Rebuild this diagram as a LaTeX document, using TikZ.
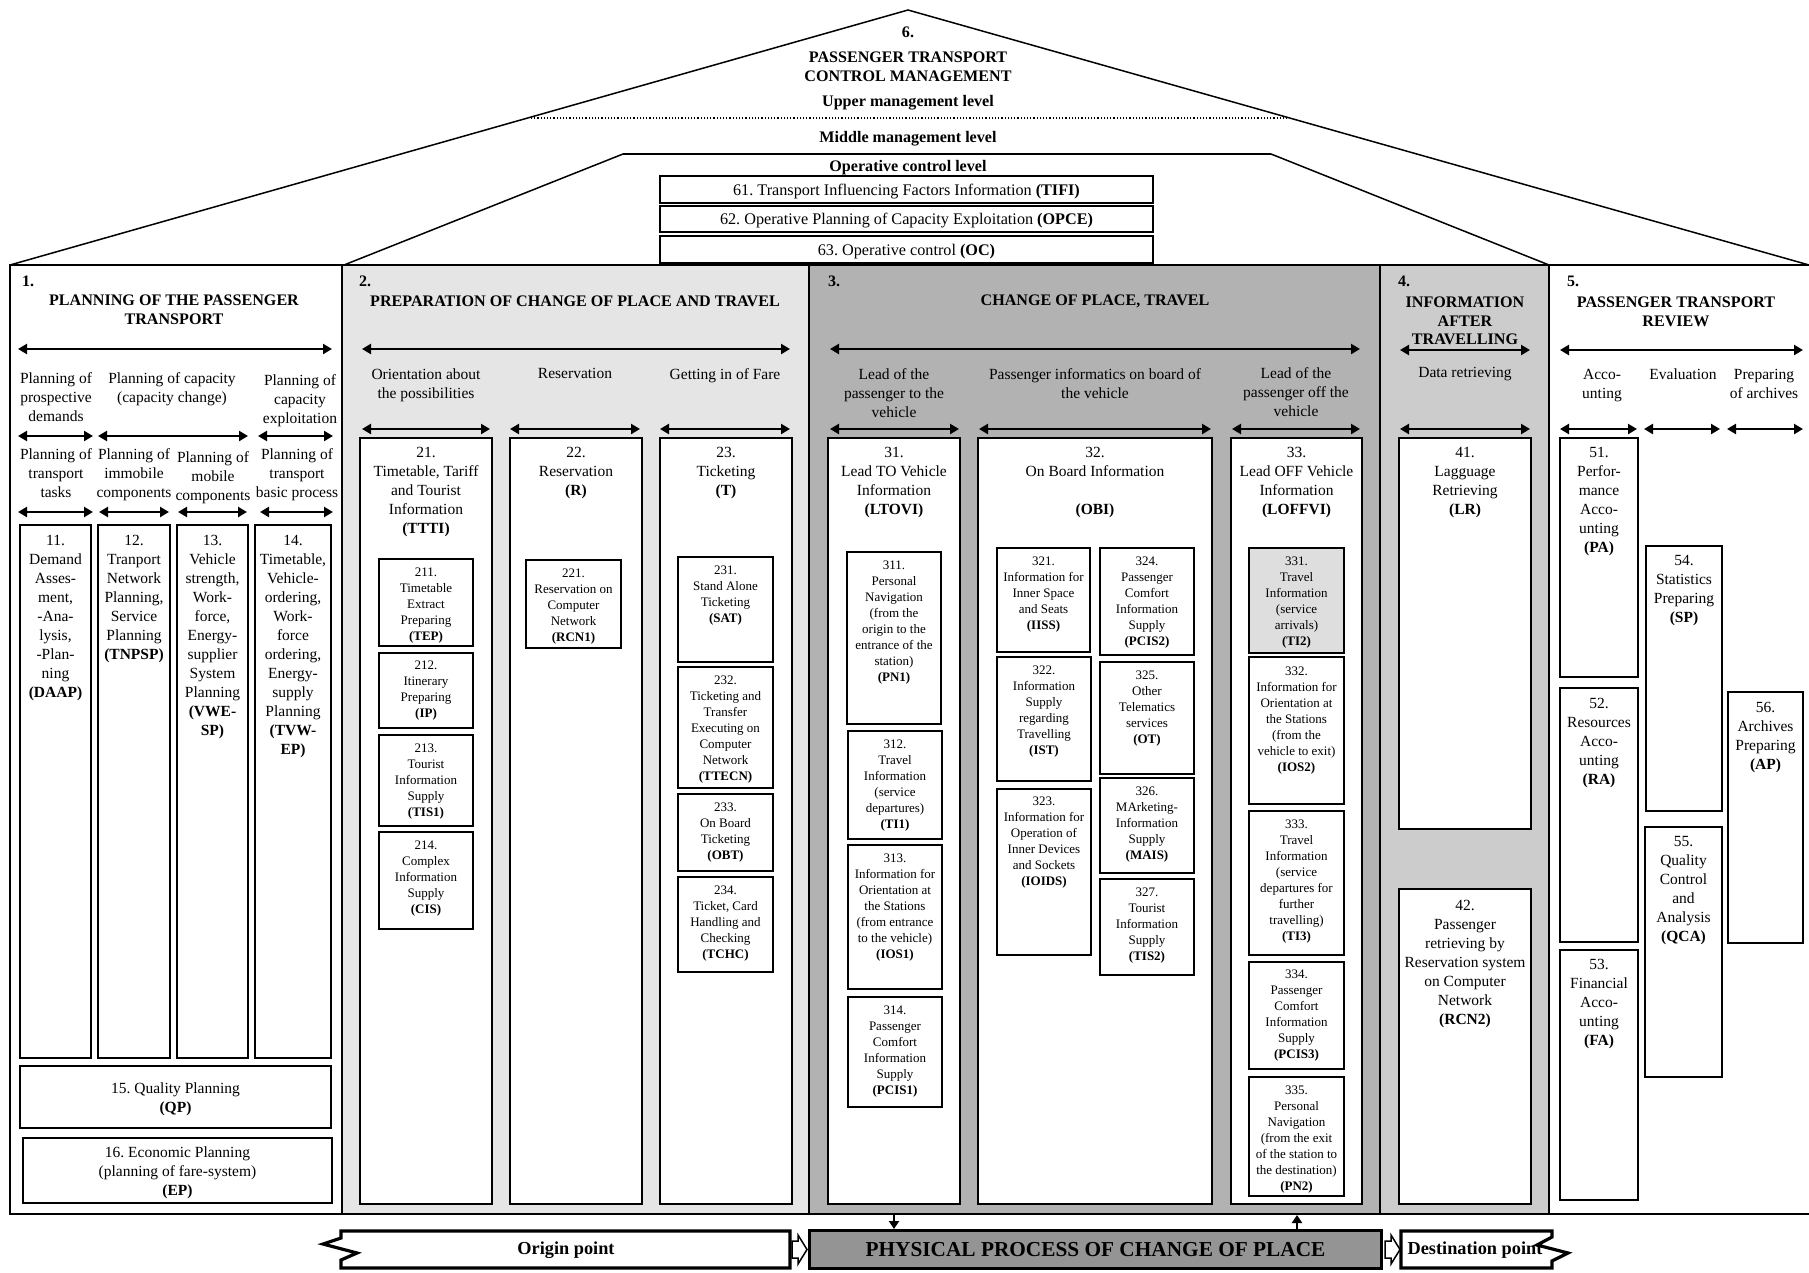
\documentclass[tikz,border=0pt]{standalone}
\usepackage{fontspec}
\setmainfont{Liberation Serif}
\usetikzlibrary{arrows.meta}
\definecolor{sTwo}{gray}{0.9}
\definecolor{sThree}{gray}{0.7}
\definecolor{sFour}{gray}{0.8}
\definecolor{hiBox}{gray}{0.87}
\definecolor{physC}{gray}{0.58}
\newcommand\tx[5][mtx]{\node[#1] (#2) at (#3,#4) {\strut #5};}
\newcommand\bx[6][]{\node[bxs,#1,minimum width={(#5-#3)*1pt},minimum height={(#6-#4)*1pt}] (#2) at ({(#3+#5)/2},{(#4+#6)/2}) {};}
\newcommand\da[4]{\coordinate (#1a) at (#2,#4); \coordinate (#1b) at (#3,#4); \draw[dar] (#1a) -- (#1b);}
\tikzset{
  mtx/.style={font=\fontsize{15.5}{19}\selectfont, align=center, inner sep=0pt, anchor=north, yshift=8.3pt},
  stx/.style={font=\fontsize{13}{16}\selectfont, align=center, inner sep=0pt, anchor=north, yshift=6.7pt},
  htx/.style={font=\fontsize{16.1}{18.5}\selectfont\bfseries, align=center, inner sep=0pt, anchor=north, yshift=7.6pt},
  nbx/.style={font=\fontsize{16}{19}\selectfont\bfseries, anchor=west, inner sep=0pt},
  ctx/.style={font=\fontsize{16.2}{19}\selectfont, inner sep=0pt, anchor=base},
  btx/.style={font=\fontsize{18.3}{22}\selectfont\bfseries, inner sep=0pt, anchor=center},
  bxs/.style={draw, line width=1.8pt, fill=white, inner sep=0pt, outer sep=0pt, anchor=center},
  sbx/.style={line width=2.2pt},
  secb/.style={line width=2pt},
  rbx/.style={line width=1.8pt},
  dar/.style={line width=2.4pt, {Triangle[length=9pt,width=10pt]}-{Triangle[length=9pt,width=10pt]}},
  sar/.style={line width=2.6pt, -{Triangle[length=8pt,width=10pt]}},
  obox/.style={draw, fill=white, line width=3.2pt, line join=miter},
  blk/.style={draw, fill=white, line width=1.5pt, line join=miter}
}
\begin{document}
\frenchspacing
\begin{tikzpicture}[x=1pt,y=-1pt]
\useasboundingbox (0,0) rectangle (1809,1272);
% ---------- roof ----------
\coordinate (apex) at (908,10);
\coordinate (rl) at (10,265);
\coordinate (rr) at (1809,265);
\draw[line width=1.5pt] (rl) -- (apex) -- (rr);
\coordinate (dl) at (531,118);
\coordinate (dr) at (1289,118);
\draw[dotted, line width=1.2pt] (dl) -- (dr);
\coordinate (tl) at (344,265);
\coordinate (ttl) at (623,154);
\coordinate (ttr) at (1271,154);
\coordinate (tr) at (1549,265);
\draw[line width=1.5pt] (tl) -- (ttl);
\draw[line width=2.6pt] (ttl) -- (ttr);
\draw[line width=1.5pt] (ttr) -- (tr);
\tx[htx]{r6}{908}{32}{6.}
\tx[htx]{rtitle}{908}{57}{PASSENGER TRANSPORT\\CONTROL MANAGEMENT}
\tx[htx]{rup}{908}{101}{Upper management level}
\tx[htx]{rmid}{908}{137}{Middle management level}
\tx[htx]{rop}{908}{166}{Operative control level}
\bx[rbx]{b61}{660}{176}{1153}{203}
\node[ctx] (t61) at ([yshift=-5.5pt]b61.center) {61. Transport Influencing Factors Information \textbf{(TIFI)}};
\bx[rbx]{b62}{660}{206}{1153}{232}
\node[ctx] (t62) at ([yshift=-5.5pt]b62.center) {62. Operative Planning of Capacity Exploitation \textbf{(OPCE)}};
\bx[rbx]{b63}{660}{236}{1153}{263}
\node[ctx] (t63) at ([yshift=-5.5pt]b63.center) {63. Operative control \textbf{(OC)}};
% ---------- sections ----------
\bx[secb]{s1}{10}{265}{342}{1214}
\bx[secb,fill=sTwo]{s2}{342}{265}{809}{1214}
\bx[secb,fill=sThree]{s3}{809}{265}{1380}{1214}
\bx[secb,fill=sFour]{s4}{1380}{265}{1549}{1214}
\node[inner sep=0pt, outer sep=0pt, minimum width=260pt, minimum height=949pt] (s5) at (1679,739.5) {};
\draw[line width=2pt] (s5.north west) -- (s5.north east);
\draw[line width=2pt] (s5.south west) -- (s5.south east);
\node[nbx] (n1) at (22,281) {1.};
\node[nbx] (n2) at (359,281) {2.};
\node[nbx] (n3) at (828,281) {3.};
\node[nbx] (n4) at (1398,281) {4.};
\node[nbx] (n5) at (1567,281) {5.};
\tx[htx]{h1}{174}{300}{PLANNING OF THE PASSENGER\\TRANSPORT}
\tx[htx]{h2}{575}{301}{PREPARATION OF CHANGE OF PLACE AND TRAVEL}
\tx[htx]{h3}{1095}{300}{CHANGE OF PLACE, TRAVEL}
\tx[htx]{h4}{1465}{302}{INFORMATION\\AFTER\\TRAVELLING}
\tx[htx]{h5}{1676}{302}{PASSENGER TRANSPORT\\REVIEW}
% ---------- long arrows ----------
\da{aA1}{18}{332}{349}
\da{aA2}{362}{790}{349}
\da{aA3}{830}{1360}{349}
\da{aA4}{1400}{1530}{350}
\da{aA5}{1560}{1803}{350}
% ---------- section 1 ----------
\tx{l11}{56}{378}{Planning of\\prospective\\demands}
\tx{l12}{172}{378}{Planning of capacity\\(capacity change)}
\tx{l13}{300}{380}{Planning of\\capacity\\exploitation}
\da{aB1}{18}{93}{436}
\da{aB2}{98}{248}{436}
\da{aB3}{258}{333}{436}
\tx{l14}{56}{454}{Planning of\\transport\\tasks}
\tx{l15}{134}{454}{Planning of\\immobile\\components}
\tx{l16}{213}{457}{Planning of\\mobile\\components}
\tx{l17}{297}{454}{Planning of\\transport\\basic process}
\da{aC1}{18}{93}{512}
\da{aC2}{99}{169}{512}
\da{aC3}{178}{247}{512}
\da{aC4}{260}{333}{512}
\bx{b11}{20}{525}{91}{1058}
\tx{t11}{55.5}{540}{11.\\Demand\\Asses-\\ment,\\-Ana-\\lysis,\\-Plan-\\ning\\\textbf{(DAAP)}}
\bx{b12}{98}{525}{170}{1058}
\tx{t12}{134}{540}{12.\\Tranport\\Network\\Planning,\\Service\\Planning\\\textbf{(TNPSP)}}
\bx{b13}{177}{525}{248}{1058}
\tx{t13}{212.5}{540}{13.\\Vehicle\\strength,\\Work-\\force,\\Energy-\\supplier\\System\\Planning\\\textbf{(VWE-}\\\textbf{SP)}}
\bx{b14}{255}{525}{331}{1058}
\tx{t14}{293}{540}{14.\\Timetable,\\Vehicle-\\ordering,\\Work-\\force\\ordering,\\Energy-\\supply\\Planning\\\textbf{(TVW-}\\\textbf{EP)}}
\bx{b15}{20}{1066}{331}{1128}
\tx{t15}{175.5}{1088}{15. Quality Planning\\\textbf{(QP)}}
\bx{b16}{23}{1138}{332}{1203}
\tx{t16}{177.5}{1152}{16. Economic Planning\\(planning of fare-system)\\\textbf{(EP)}}
% ---------- section 2 ----------
\tx{l21}{426}{374}{Orientation about\\the possibilities}
\tx{l22}{575}{373}{Reservation}
\tx{l23}{725}{374}{Getting in of Fare}
\da{aD1}{362}{490}{429}
\da{aD2}{510}{640}{429}
\da{aD3}{660}{790}{429}
\bx{b21}{360}{438}{492}{1204}
\tx{t21}{426}{452}{21.\\Timetable, Tariff\\and Tourist\\Information\\\textbf{(TTTI)}}
\bx{b22}{510}{438}{642}{1204}
\tx{t22}{576}{452}{22.\\Reservation\\\textbf{(R)}}
\bx{b23}{660}{438}{792}{1204}
\tx{t23}{726}{452}{23.\\Ticketing\\\textbf{(T)}}
\bx[sbx]{b211}{379}{559}{473}{646}
\tx[stx]{t211}{426}{571.7}{211.\\Timetable\\Extract\\Preparing\\\textbf{(TEP)}}
\bx[sbx]{b212}{379}{653}{473}{728}
\tx[stx]{t212}{426}{665}{212.\\Itinerary\\Preparing\\\textbf{(IP)}}
\bx[sbx]{b213}{379}{735}{473}{826}
\tx[stx]{t213}{426}{747.5}{213.\\Tourist\\Information\\Supply\\\textbf{(TIS1)}}
\bx[sbx]{b214}{379}{832}{473}{929}
\tx[stx]{t214}{426}{844.5}{214.\\Complex\\Information\\Supply\\\textbf{(CIS)}}
\bx[sbx]{b221}{526}{560}{621}{648}
\tx[stx]{t221}{573.5}{572.7}{221.\\Reservation on\\Computer\\Network\\\textbf{(RCN1)}}
\bx[sbx]{b231}{678}{557}{773}{662}
\tx[stx]{t231}{725.5}{570}{231.\\Stand Alone\\Ticketing\\\textbf{(SAT)}}
\bx[sbx]{b232}{678}{667}{773}{788}
\tx[stx]{t232}{725.5}{679.3}{232.\\Ticketing and\\Transfer\\Executing on\\Computer\\Network\\\textbf{(TTECN)}}
\bx[sbx]{b233}{678}{794}{773}{871}
\tx[stx]{t233}{725.5}{806.8}{233.\\On Board\\Ticketing\\\textbf{(OBT)}}
\bx[sbx]{b234}{678}{877}{773}{972}
\tx[stx]{t234}{725.5}{889.3}{234.\\Ticket, Card\\Handling and\\Checking\\\textbf{(TCHC)}}
% ---------- section 3 ----------
\tx{l31}{894}{374}{Lead of the\\passenger to the\\vehicle}
\tx{l32}{1095}{374}{Passenger informatics on board of\\the vehicle}
\tx{l33}{1296}{373}{Lead of the\\passenger off the\\vehicle}
\da{aE1}{830}{959}{429}
\da{aE2}{979}{1211}{429}
\da{aE3}{1232}{1360}{429}
\bx{b31}{828}{438}{960}{1204}
\tx{t31}{894}{452}{31.\\Lead TO Vehicle\\Information\\\textbf{(LTOVI)}}
\bx{b32}{978}{438}{1212}{1204}
\tx{t32}{1095}{452}{32.\\On Board Information\\[19pt]\textbf{(OBI)}}
\bx{b33}{1231}{438}{1362}{1204}
\tx{t33}{1296.5}{452}{33.\\Lead OFF Vehicle\\Information\\\textbf{(LOFFVI)}}
\bx[sbx]{b311}{847}{552}{941}{724}
\tx[stx]{t311}{894}{564.3}{311.\\Personal\\Navigation\\(from the\\origin to the\\entrance of the\\station)\\\textbf{(PN1)}}
\bx[sbx]{b312}{848}{731}{942}{839}
\tx[stx]{t312}{895}{743.3}{312.\\Travel\\Information\\(service\\departures)\\\textbf{(TI1)}}
\bx[sbx]{b313}{848}{845}{942}{989}
\tx[stx]{t313}{895}{857.7}{313.\\Information for\\Orientation at\\the Stations\\(from entrance\\to the vehicle)\\\textbf{(IOS1)}}
\bx[sbx]{b314}{848}{997}{942}{1107}
\tx[stx]{t314}{895}{1009.8}{314.\\Passenger\\Comfort\\Information\\Supply\\\textbf{(PCIS1)}}
\bx[sbx]{b321}{997}{548}{1090}{652}
\tx[stx]{t321}{1043.5}{560.7}{321.\\Information for\\Inner Space\\and Seats\\\textbf{(IISS)}}
\bx[sbx]{b322}{997}{657}{1091}{781}
\tx[stx]{t322}{1044}{669.3}{322.\\Information\\Supply\\regarding\\Travelling\\\textbf{(IST)}}
\bx[sbx]{b323}{997}{789}{1091}{955}
\tx[stx]{t323}{1044}{801}{323.\\Information for\\Operation of\\Inner Devices\\and Sockets\\\textbf{(IOIDS)}}
\bx[sbx]{b324}{1100}{548}{1194}{655}
\tx[stx]{t324}{1147}{560.7}{324.\\Passenger\\Comfort\\Information\\Supply\\\textbf{(PCIS2)}}
\bx[sbx]{b325}{1100}{662}{1194}{774}
\tx[stx]{t325}{1147}{675}{325.\\Other\\Telematics\\services\\\textbf{(OT)}}
\bx[sbx]{b326}{1100}{778}{1194}{873}
\tx[stx]{t326}{1147}{791}{326.\\MArketing-\\Information\\Supply\\\textbf{(MAIS)}}
\bx[sbx]{b327}{1100}{879}{1194}{975}
\tx[stx]{t327}{1147}{891.7}{327.\\Tourist\\Information\\Supply\\\textbf{(TIS2)}}
\bx[sbx,fill=hiBox]{b331}{1249}{548}{1344}{653}
\tx[stx]{t331}{1296.5}{561}{331.\\Travel\\Information\\(service\\arrivals)\\\textbf{(TI2)}}
\bx[sbx]{b332}{1249}{657}{1344}{804}
\tx[stx]{t332}{1296.5}{670.7}{332.\\Information for\\Orientation at\\the Stations\\(from the\\vehicle to exit)\\\textbf{(IOS2)}}
\bx[sbx]{b333}{1249}{811}{1344}{955}
\tx[stx]{t333}{1296.5}{824}{333.\\Travel\\Information\\(service\\departures for\\further\\travelling)\\\textbf{(TI3)}}
\bx[sbx]{b334}{1249}{962}{1344}{1069}
\tx[stx]{t334}{1296.5}{974}{334.\\Passenger\\Comfort\\Information\\Supply\\\textbf{(PCIS3)}}
\bx[sbx]{b335}{1249}{1077}{1344}{1196}
\tx[stx]{t335}{1296.5}{1089.5}{335.\\Personal\\Navigation\\(from the exit\\of the station to\\the destination)\\\textbf{(PN2)}}
% ---------- section 4 ----------
\tx{l41}{1465}{372}{Data retrieving}
\da{aF1}{1400}{1530}{429}
\bx{b41}{1399}{438}{1531}{829}
\tx{t41}{1465}{452}{41.\\Lagguage\\Retrieving\\\textbf{(LR)}}
\bx{b42}{1399}{889}{1531}{1204}
\tx{t42}{1465}{905}{42.\\Passenger\\retrieving by\\Reservation system\\on Computer\\Network\\\textbf{(RCN2)}}
% ---------- section 5 ----------
\tx{l51}{1602}{374}{Acco-\\unting}
\tx{l52}{1683}{374}{Evaluation}
\tx{l53}{1764}{374}{Preparing\\of archives}
\da{aG1}{1560}{1637}{429}
\da{aG2}{1644}{1720}{429}
\da{aG3}{1727}{1803}{429}
\bx{b51}{1560}{438}{1638}{677}
\tx{t51}{1599}{452}{51.\\Perfor-\\mance\\Acco-\\unting\\\textbf{(PA)}}
\bx{b52}{1560}{688}{1638}{942}
\tx{t52}{1599}{703}{52.\\Resources\\Acco-\\unting\\\textbf{(RA)}}
\bx{b53}{1560}{950}{1638}{1200}
\tx{t53}{1599}{964}{53.\\Financial\\Acco-\\unting\\\textbf{(FA)}}
\bx{b54}{1646}{546}{1722}{811}
\tx{t54}{1684}{560}{54.\\Statistics\\Preparing\\\textbf{(SP)}}
\bx{b55}{1645}{827}{1722}{1077}
\tx{t55}{1683.5}{841}{55.\\Quality\\Control\\and\\Analysis\\\textbf{(QCA)}}
\bx{b56}{1728}{692}{1803}{943}
\tx{t56}{1765.5}{707}{56.\\Archives\\Preparing\\\textbf{(AP)}}
% ---------- bottom band ----------
\coordinate (va1) at (894,1215);
\coordinate (vb1) at (894,1229);
\draw[sar] (va1) -- (vb1);
\coordinate (va2) at (1297,1229);
\coordinate (vb2) at (1297,1215);
\draw[sar] (va2) -- (vb2);
\draw[obox] (341,1231) -- (790,1231) -- (790,1268) -- (341,1268) -- (341,1260) -- (357,1253) -- (323,1244) -- (341,1238) -- cycle;
\node[btx] (orig) at (566,1250) {Origin point};
\draw[blk] (792,1241) -- (798,1241) -- (798,1235) -- (807,1249.5) -- (798,1264) -- (798,1258) -- (792,1258) -- cycle;
\node[draw, line width=3.5pt, fill=physC, minimum width=572pt, minimum height=38pt, inner sep=0pt, font=\fontsize{21.3}{24}\selectfont\bfseries] (phys) at (1095.5,1249.5) {PHYSICAL PROCESS OF CHANGE OF PLACE};
\draw[blk] (1385,1241) -- (1391,1241) -- (1391,1235) -- (1400,1249.5) -- (1391,1264) -- (1391,1258) -- (1385,1258) -- cycle;
\draw[obox] (1401,1231) -- (1552,1231) -- (1552,1237) -- (1537,1245) -- (1568,1253) -- (1552,1261) -- (1552,1268) -- (1401,1268) -- cycle;
\node[btx] (dest) at (1475,1250) {Destination point};
\end{tikzpicture}
\end{document}
